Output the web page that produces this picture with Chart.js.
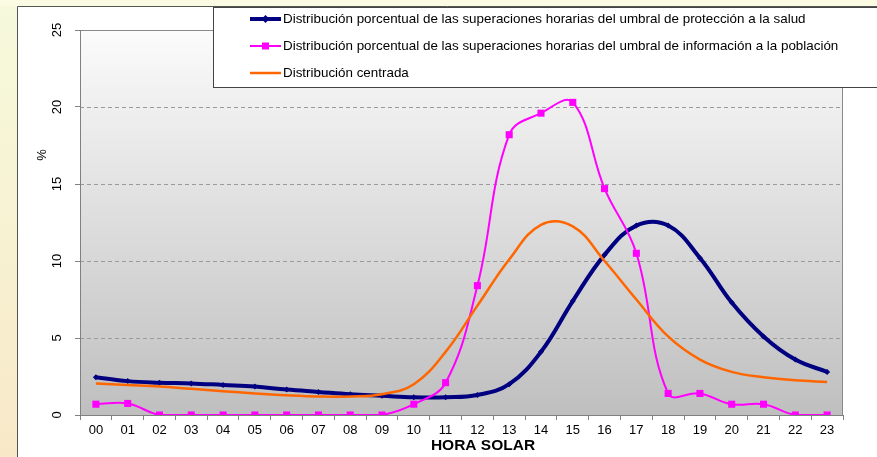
<!DOCTYPE html>
<html>
<head>
<meta charset="utf-8">
<script src="https://cdn.jsdelivr.net/npm/chart.js@4"></script>
<style>
html,body{margin:0;padding:0;background:#fff;}
#wrap{width:877px;height:457px;position:relative;}
</style>
</head>
<body>
<div id="wrap"><canvas id="c" width="877" height="457"></canvas></div>
<script>
const hours = ['00','01','02','03','04','05','06','07','08','09','10','11','12','13','14','15','16','17','18','19','20','21','22','23'];
const saludValues = [2.45,2.2,2.1,2.05,1.95,1.85,1.65,1.5,1.35,1.25,1.15,1.15,1.3,2.0,4.1,7.4,10.4,12.3,12.3,10.2,7.3,5.1,3.6,2.8];
const poblacionValues = [0.7,0.75,0,0,0,0,0,0,0,0,0.7,2.1,8.4,18.2,19.6,20.3,14.7,10.5,1.4,1.4,0.7,0.7,0,0];
const centradaValues = [2.05,1.95,1.85,1.7,1.55,1.4,1.28,1.2,1.2,1.35,2.0,4.1,7.1,10.1,12.35,12.25,10.0,7.5,5.1,3.6,2.8,2.45,2.25,2.15];
const seriesLabels = [
  'Distribución porcentual de las superaciones horarias del umbral de protección a la salud',
  'Distribución porcentual de las superaciones horarias del umbral de información a la población',
  'Distribución centrada'
];
const yTickValues = [0,5,10,15,20,25];
const yTitle = '%';
const xTitle = 'HORA SOLAR';

const FONT = '"Liberation Sans", Arial, sans-serif';

const bgPlugin = {
  id: 'bg',
  beforeDraw(chart) {
    const ctx = chart.ctx;
    const W = chart.width, H = chart.height;
    ctx.save();
    ctx.fillStyle = '#ffffff';
    ctx.fillRect(0,0,W,H);
    let g = ctx.createLinearGradient(0,0,0,H);
    g.addColorStop(0,'#f6f9dc');
    g.addColorStop(0.5,'#f7f2d2');
    g.addColorStop(1,'#f8e8c8');
    ctx.fillStyle = g;
    ctx.fillRect(0,0,17,H);
    ctx.fillStyle = '#fbfbe4';
    ctx.fillRect(0,0,W,6);
    ctx.strokeStyle = '#555555';
    ctx.lineWidth = 1;
    ctx.beginPath();
    ctx.moveTo(17.5,H); ctx.lineTo(17.5,6.5); ctx.lineTo(W,6.5);
    ctx.stroke();
    const a = chart.chartArea;
    g = ctx.createLinearGradient(0,a.top,0,a.bottom);
    g.addColorStop(0,'#fbfbfb');
    g.addColorStop(1,'#bfbfbf');
    ctx.fillStyle = g;
    ctx.fillRect(a.left,a.top,a.right-a.left,a.bottom-a.top);
    const ys = chart.scales.y;
    ctx.strokeStyle = '#9a9a9a';
    ctx.setLineDash([4,3]);
    ys.ticks.forEach(t => {
      if (t.value <= 0 || t.value >= 25) return;
      const y = Math.round(ys.getPixelForValue(t.value)) + 0.5;
      ctx.beginPath(); ctx.moveTo(a.left,y); ctx.lineTo(a.right,y); ctx.stroke();
    });
    ctx.setLineDash([]);
    ctx.strokeStyle = '#8a8a8a';
    ctx.beginPath();
    ctx.moveTo(a.left, a.top+0.5); ctx.lineTo(a.right-0.5, a.top+0.5); ctx.lineTo(a.right-0.5, a.bottom);
    ctx.stroke();
    ctx.restore();
  },
  afterDraw(chart) {
    const ctx = chart.ctx;
    const ys = chart.scales.y;
    ctx.save();
    ctx.fillStyle = '#000';
    ctx.font = '13px ' + FONT;
    ctx.textAlign = 'center';
    ctx.textBaseline = 'middle';
    yTickValues.forEach(v => {
      const y = ys.getPixelForValue(v);
      ctx.save();
      ctx.translate(57, y);
      ctx.rotate(-Math.PI/2);
      ctx.fillText(String(v), 0, 0);
      ctx.restore();
    });
    ctx.save();
    ctx.translate(42, 155);
    ctx.rotate(-Math.PI/2);
    ctx.fillText(yTitle, 0, 0);
    ctx.restore();
    ctx.font = 'bold 15.5px ' + FONT;
    ctx.fillText(xTitle, 483, 446);
    const lx = 213.5, ly = 7.5;
    ctx.fillStyle = '#ffffff';
    ctx.fillRect(lx, ly, 700, 80);
    ctx.strokeStyle = '#444444';
    ctx.lineWidth = 1;
    ctx.strokeRect(lx, ly, 700, 80);
    const rows = [19, 46, 73];
    ctx.font = '13.4px ' + FONT;
    ctx.textAlign = 'left';
    chart.data.datasets.forEach((ds, i) => {
      const y = rows[i];
      ctx.strokeStyle = ds.borderColor;
      ctx.lineWidth = ds.borderWidth;
      ctx.beginPath(); ctx.moveTo(250, y); ctx.lineTo(281, y); ctx.stroke();
      if (ds.pointRadius > 0) {
        ctx.fillStyle = ds.pointBackgroundColor;
        if (ds.pointStyle === 'rect') {
          ctx.fillRect(265.5-3.5, y-3.5, 7, 7);
        } else {
          ctx.beginPath();
          ctx.moveTo(265.5, y-4); ctx.lineTo(269.5, y); ctx.lineTo(265.5, y+4); ctx.lineTo(261.5, y);
          ctx.closePath(); ctx.fill();
        }
      }
      ctx.fillStyle = '#000';
      ctx.fillText(ds.label, 283, y);
    });
    ctx.restore();
  }
};

new Chart(document.getElementById('c'), {
  type: 'line',
  data: {
    labels: hours,
    datasets: [
      {
        label: seriesLabels[0], data: saludValues,
        borderColor: '#000080', backgroundColor: '#000080',
        pointBackgroundColor: '#000080', pointBorderColor: '#000080',
        borderWidth: 4, pointStyle: 'rectRot', pointRadius: 3, pointBorderWidth: 0,
        tension: 0.4, order: 3, fill: false
      },
      {
        label: seriesLabels[1], data: poblacionValues,
        borderColor: '#ff00ff', backgroundColor: '#ff00ff',
        pointBackgroundColor: '#ff00ff', pointBorderColor: '#ff00ff',
        borderWidth: 2, pointStyle: 'rect', pointRadius: 5, pointBorderWidth: 0,
        tension: 0.4, order: 2, fill: false
      },
      {
        label: seriesLabels[2], data: centradaValues,
        borderColor: '#ff6600', backgroundColor: '#ff6600',
        pointBackgroundColor: '#ff6600',
        borderWidth: 2.5, pointRadius: 0,
        tension: 0.4, order: 1, fill: false
      }
    ]
  },
  options: {
    responsive: false,
    animation: false,
    devicePixelRatio: 1,
    layout: { padding: { left: 0, right: 34, top: 30, bottom: 0 } },
    plugins: { legend: { display: false }, tooltip: { enabled: false } },
    scales: {
      x: {
        type: 'category',
        offset: true,
        grid: { offset: true, drawOnChartArea: false, drawTicks: true, tickLength: 5, tickColor: '#808080', color: '#808080' },
        border: { color: '#808080', width: 1 },
        ticks: { color: '#000', font: { family: FONT, size: 13 }, padding: 3, maxRotation: 0, autoSkip: false },
        afterFit(s) { s.height = 42; }
      },
      y: {
        min: 0, max: 25,
        ticks: { stepSize: 5, display: false },
        grid: { drawOnChartArea: false, drawTicks: true, tickLength: 5, tickColor: '#808080' },
        border: { color: '#808080', width: 1 },
        afterFit(s) { s.width = 80; }
      }
    }
  },
  plugins: [bgPlugin]
});
</script>
</body>
</html>
